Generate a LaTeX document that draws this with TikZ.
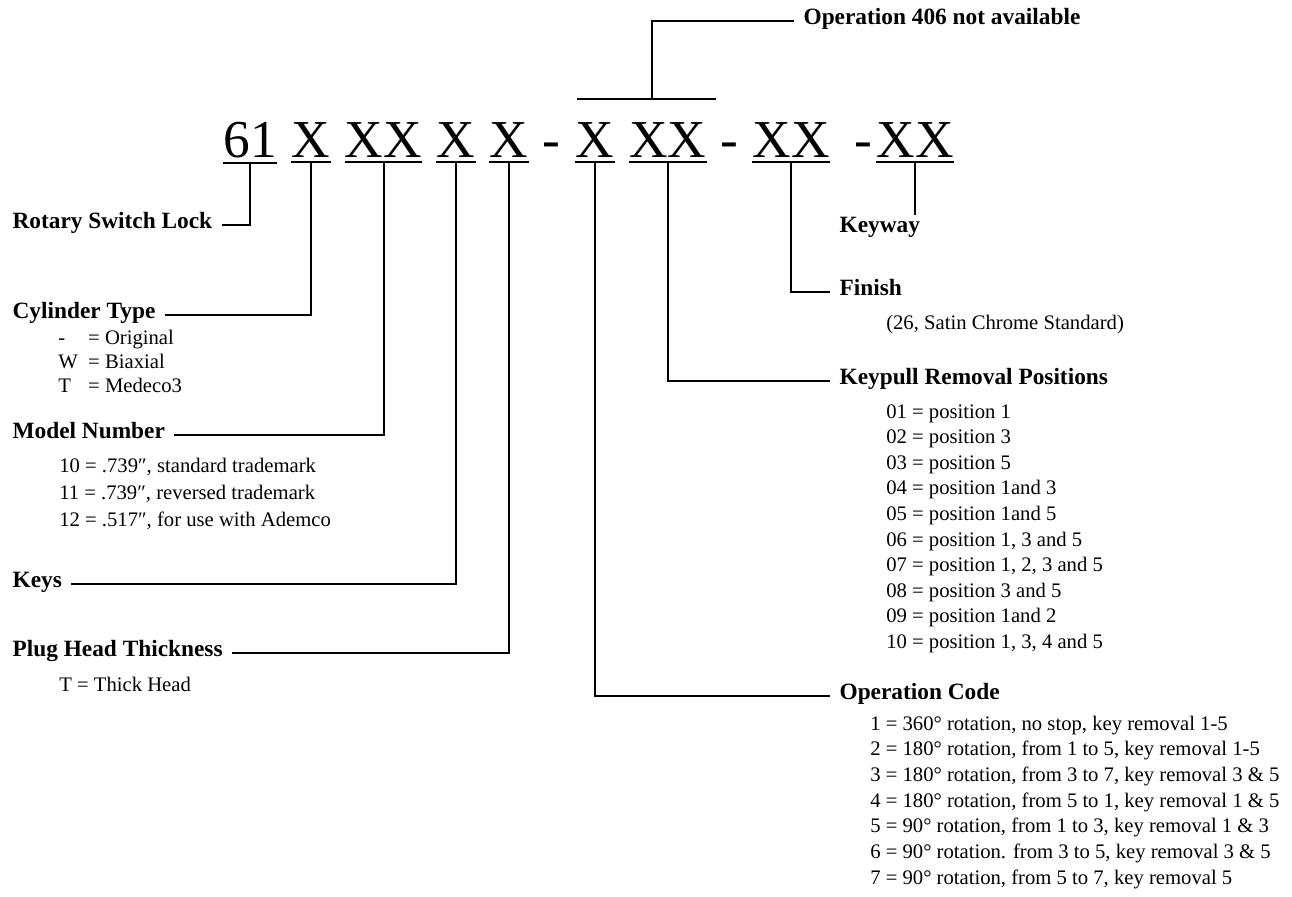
\documentclass[tikz,border=0pt]{standalone}
\usepackage{fontspec}
\setmainfont{Liberation Serif}
\usepackage{tikz}
\newcommand{\codefont}{\fontsize{40}{48}\selectfont}
\newcommand{\headfont}{\fontsize{17.5}{21}\selectfont\bfseries}
\newcommand{\entryfont}{\fontsize{15.5}{19}\selectfont}
\tikzset{
  part/.style={font=\codefont, anchor=base, inner xsep=0pt, inner ysep=3.75pt},
  heading/.style={font=\headfont, anchor=west, inner xsep=7pt, inner ysep=4pt, text height=0.7em, text depth=0.22em},
  entry/.style={font=\entryfont, anchor=base west, inner sep=0pt},
  lead/.style={line width=1.5pt}
}
% one underlined part of the order code: name, x, text
\newcommand{\codepart}[3]{\node[part] (#1) at (#2,157) {#3}; \draw[lead] (#1.south west)--(#1.south east);}
% entries under a heading: name, x, first baseline, step, entries
\newcommand{\entrylist}[5]{
    \foreach \e [count=\i from 0] in {#5}{
    \node[entry] (#1-\i) at (#2,#3+\i*#4) {\e};
    }
}
\newcommand{\eqcol}[1]{\makebox[1.45em][l]{#1}}

\begin{document}
\begin{tikzpicture}[x=0.75pt,y=-0.75pt]
\useasboundingbox (0,0) rectangle (1292,896);
% order code
\codepart{t61}{250}{61}\codepart{tcyl}{311}{X}\codepart{tmod}{383.5}{XX}\codepart{tkey}{456}{X}\codepart{tplug}{509}{X}
\node[part] (d1) at (551.5,157) {-};
\codepart{top}{595}{X}\codepart{tpull}{668}{XX}
\node[part] (d2) at (729.5,157) {-};
\codepart{tfin}{791}{XX}
\node[part] (d3) at (863,157) {-};
\codepart{tway}{915}{XX}
% headings
\node[heading] (lock) at (3,225) {Rotary Switch Lock};
\node[heading] (cyl) at (3,315) {Cylinder Type};
\node[heading] (model) at (3,435) {Model Number};
\node[heading] (keys) at (3,584) {Keys};
\node[heading] (plug) at (3,653) {Plug Head Thickness};
\node[heading] (way) at (830,229) {Keyway};
\node[heading] (finish) at (830,292) {Finish};
\node[heading] (pull) at (830,381) {Keypull Removal Positions};
\node[heading] (op) at (830,696) {Operation Code};
\node[heading] (na) at (794,21) {Operation 406 not available};
% entries
\entrylist{ct}{58}{344}{24}{{\eqcol{-}= Original},{\eqcol{W}= Biaxial},{\eqcol{T}= Medeco3}}
\entrylist{mn}{59}{472}{27}{{10 = .739″, standard trademark},{11 = .739″, reversed trademark},{12 = .517″, for use with Ademco}}
\entrylist{ph}{59}{691}{0}{{T = Thick Head}}
\entrylist{fn}{886}{329}{0}{{(26, Satin Chrome Standard)}}
\entrylist{kp}{886}{418}{25.6}{{01 = position 1},{02 = position 3},{03 = position 5},{04 = position 1and 3},{05 = position 1and 5},{06 = position 1, 3 and 5},{07 = position 1, 2, 3 and 5},{08 = position 3 and 5},{09 = position 1and 2},{10 = position 1, 3, 4 and 5}}
\entrylist{oc}{870}{730}{25.7}{{1 = 360° rotation, no stop, key removal 1-5},{2 = 180° rotation, from 1 to 5, key removal 1-5},{3 = 180° rotation, from 3 to 7, key removal 3 \& 5},{4 = 180° rotation, from 5 to 1, key removal 1 \& 5},{5 = 90° rotation, from 1 to 3, key removal 1 \& 3},{6 = 90° rotation. from 3 to 5, key removal 3 \& 5},{7 = 90° rotation, from 5 to 7, key removal 5}}
% leads
\draw[lead] (t61.south) |- (lock.east);
\draw[lead] (tcyl.south) |- (cyl.east);
\draw[lead] (tmod.south) |- (model.east);
\draw[lead] (tkey.south) |- (keys.east);
\draw[lead] (tplug.south) |- (plug.east);
\draw[lead, shorten >=2pt] (tway.south) -- (tway.south |- way.north);
\draw[lead] (tfin.south) |- (finish.west);
\draw[lead] (tpull.south) |- (pull.west);
\draw[lead] (top.south) |- (op.west);
\coordinate (barL) at (577,99); \coordinate (barR) at (716,99); \coordinate (barM) at (652,99);
\draw[lead] (barL) -- (barR);
\draw[lead] (barM) |- (na.west);
\end{tikzpicture}
\end{document}
